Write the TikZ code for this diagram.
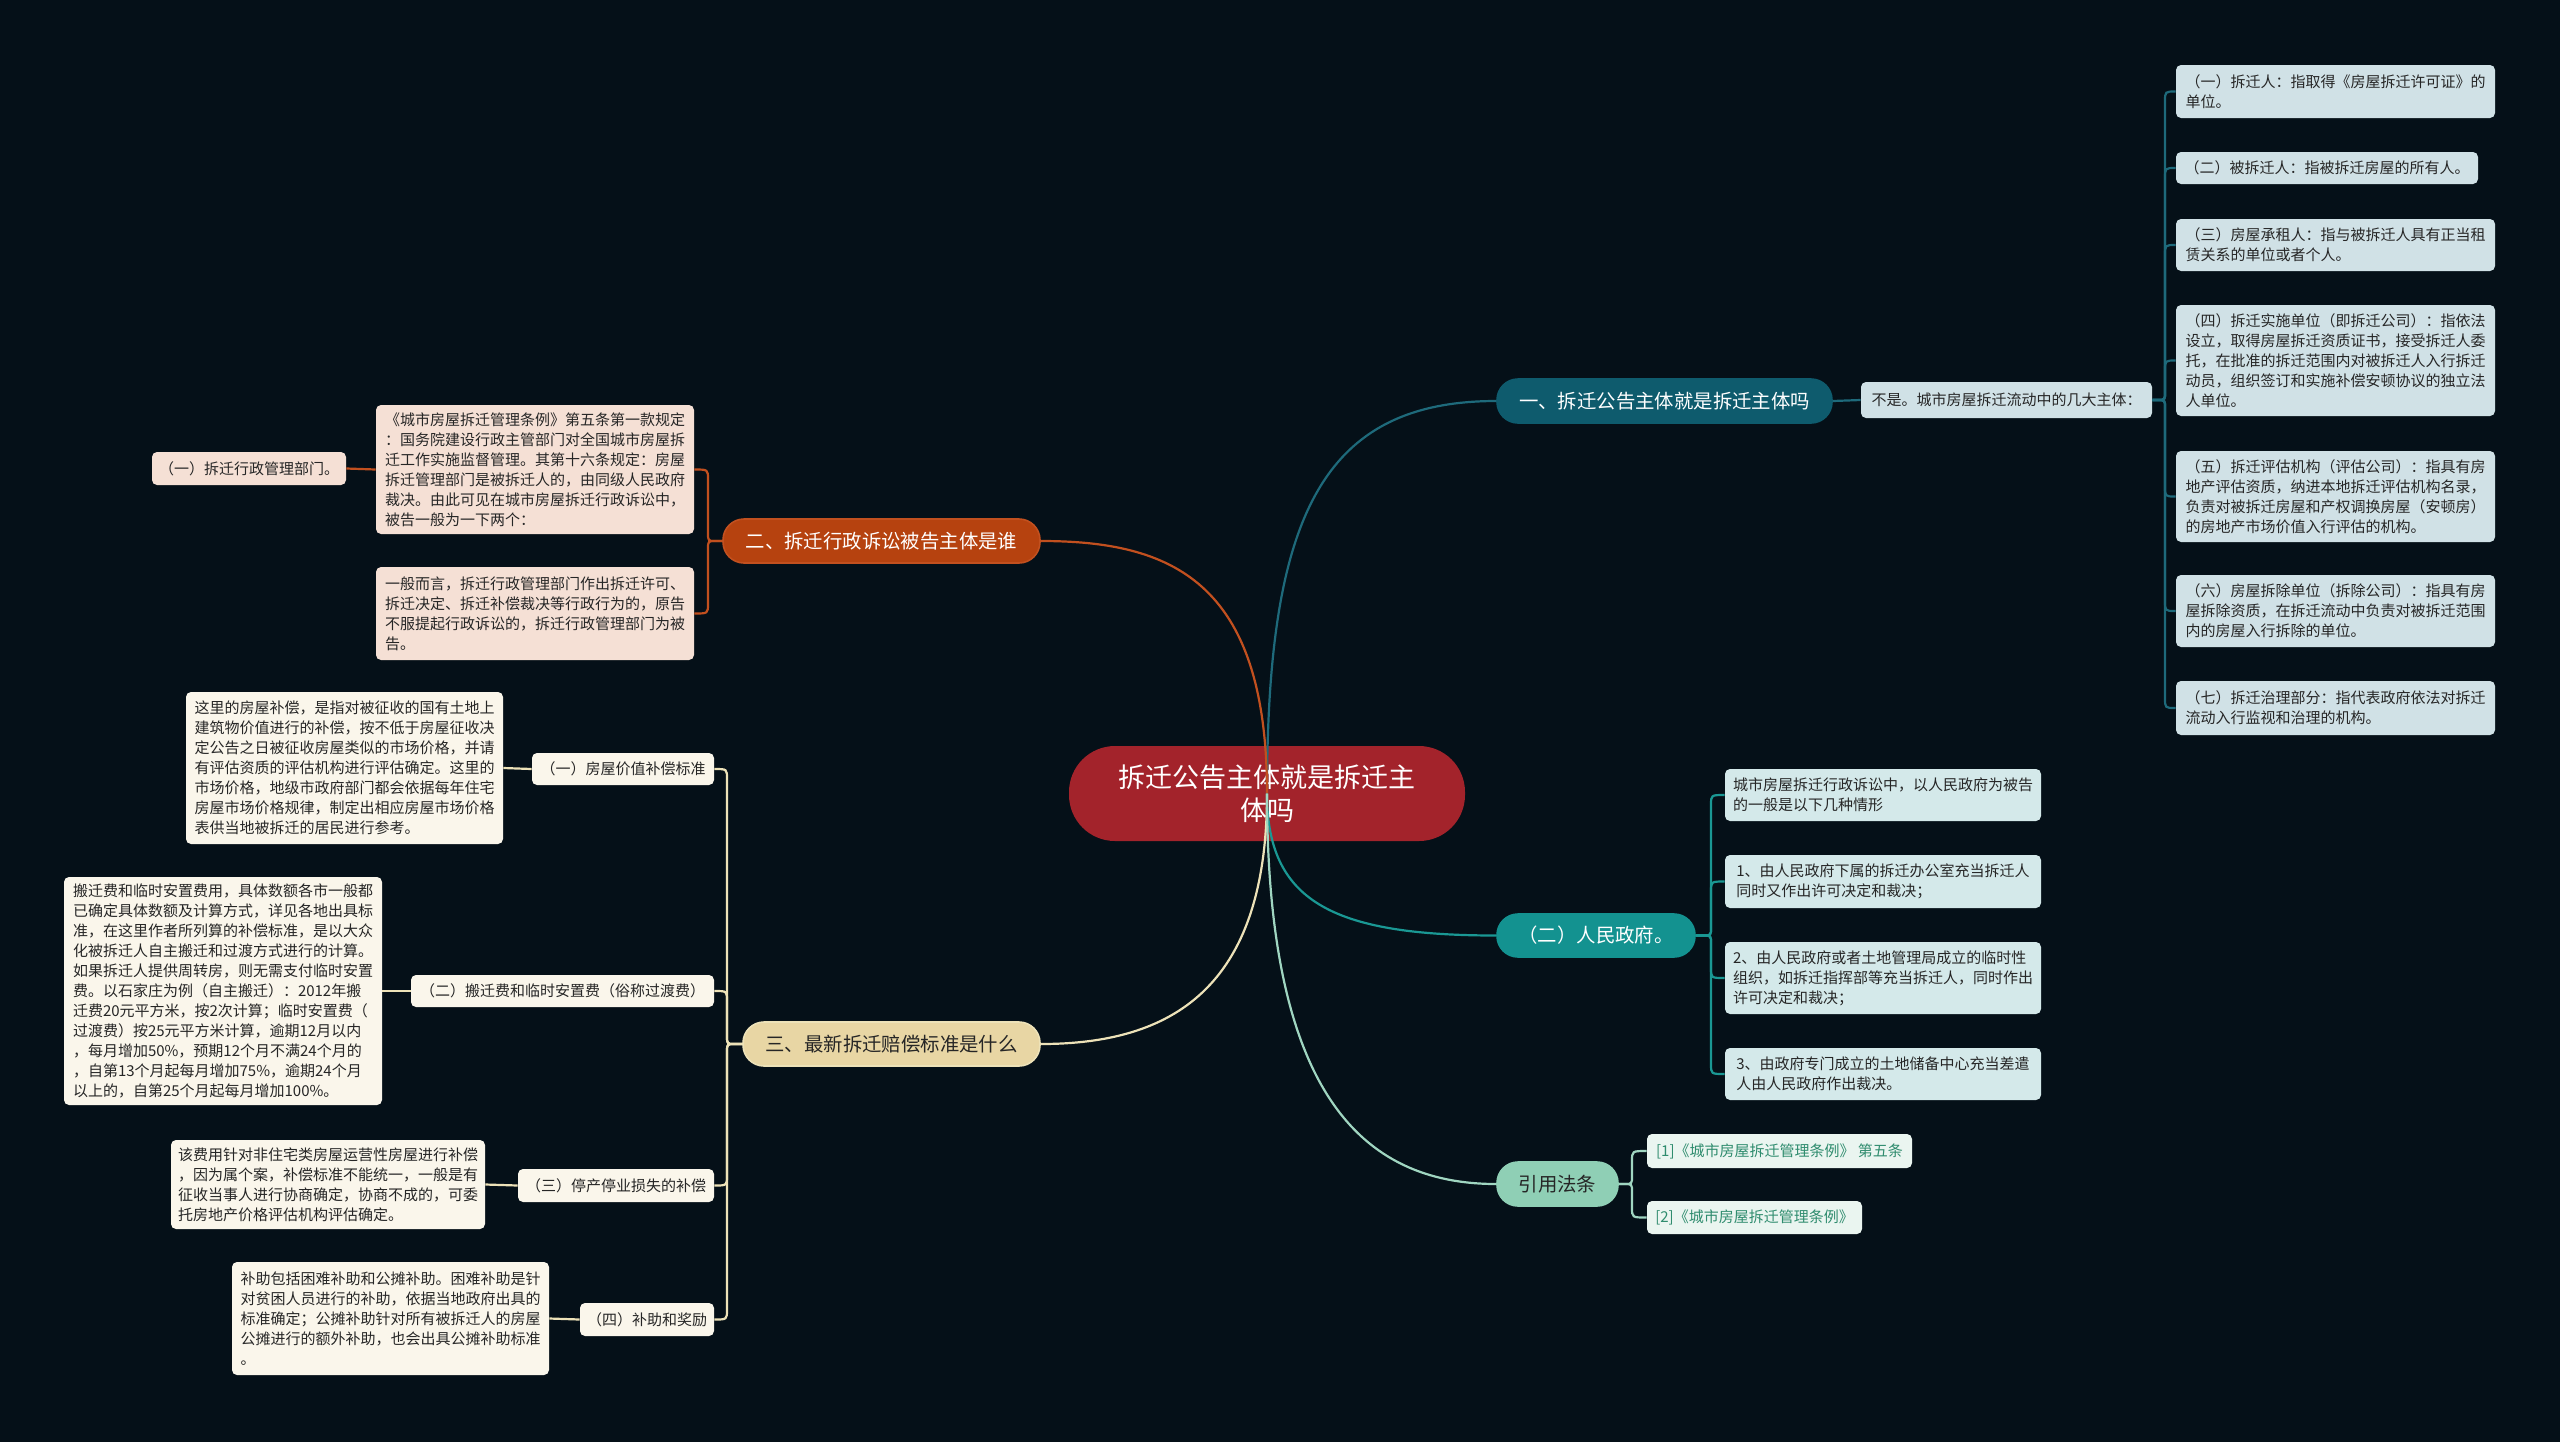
\documentclass[tikz,border=0pt]{standalone}
\usepackage{fontspec}
\setmainfont{Noto Sans CJK SC}
\definecolor{bg}{HTML}{051018}
\definecolor{cred}{HTML}{A3232B}
\definecolor{tealA}{HTML}{0E5B6D}
\definecolor{tealAl}{HTML}{1E6A7B}
\definecolor{boxA}{HTML}{D0E1E6}
\definecolor{orgB}{HTML}{B6420F}
\definecolor{orgBl}{HTML}{C2501F}
\definecolor{boxB}{HTML}{F5E0D5}
\definecolor{yelC}{HTML}{E8D6A4}
\definecolor{yelCl}{HTML}{EDE2B8}
\definecolor{boxC}{HTML}{FAF6EB}
\definecolor{tealD}{HTML}{139290}
\definecolor{tealDl}{HTML}{1A9894}
\definecolor{boxD}{HTML}{D4E9EA}
\definecolor{mintE}{HTML}{8FCFB5}
\definecolor{mintEl}{HTML}{A0D6C1}
\definecolor{boxE}{HTML}{EAF5F0}
\definecolor{txtE}{HTML}{2F8C6E}
\definecolor{txtdark}{HTML}{262626}
\newcommand\bx[7]{%
  \pgfmathsetmacro\myW{(#4-#2)*0.5}%
  \pgfmathsetmacro\myH{(#5-#3)*0.5}%
  \pgfmathsetmacro\myX{(#2+#4)/2}%
  \pgfmathsetmacro\myY{(#3+#5)/2}%
  \node[#6, minimum width=\myW pt, minimum height=\myH pt, inner sep=0pt] (#1) at (\myX,\myY) {#7};}
\newcommand\rconn[6]{%
  \pgfmathsetmacro\mySg{(#5>#3)?1:-1}%
  \draw[#6] (#1.east) -- ({#2-8},#3) .. controls (#2,#3) .. (#2,{#3+8*\mySg}) -- (#2,{#5-10*\mySg}) .. controls (#2,#5) .. (#4.west);}
\newcommand\lconn[6]{%
  \pgfmathsetmacro\mySg{(#5>#3)?1:-1}%
  \draw[#6] (#1.west) -- ({#2+8},#3) .. controls (#2,#3) .. (#2,{#3+8*\mySg}) -- (#2,{#5-10*\mySg}) .. controls (#2,#5) .. (#4.east);}
\begin{document}
\begin{tikzpicture}[x=0.5pt,y=-0.5pt,
  box/.style={rectangle, rounded corners=2.5pt, align=left, font=\fontsize{7.5}{10}\selectfont, text=txtdark},
  pill/.style={rectangle, rounded corners=10.5pt, align=center, font=\fontsize{9.7}{12}\selectfont, line width=0.8pt},
  centre/.style={rectangle, rounded corners=23pt, fill=cred, text=white, align=center, font=\fontsize{13.5}{16.5}\selectfont},
  lA/.style={draw=tealAl, line width=1.1pt},
  lB/.style={draw=orgBl, line width=1.1pt},
  lC/.style={draw=yelCl, line width=1.1pt},
  lD/.style={draw=tealDl, line width=1.1pt},
  lE/.style={draw=mintEl, line width=1.1pt}]
\useasboundingbox (0,0) rectangle (2560,1441);
\fill[bg] (-20,-20) rectangle (2580,1461);

% centre
\bx{c}{1069}{746}{1465}{841}{centre}{拆迁公告主体就是拆迁主\\体吗}

% branch 1
\bx{b1}{1497}{379}{1832}{423}{pill, fill=tealA, draw=tealA, text=white}{一、拆迁公告主体就是拆迁主体吗}
\bx{nb}{1861}{382}{2152}{418}{box, fill=boxA}{不是。城市房屋拆迁流动中的几大主体：}
\bx{R1}{2176}{65}{2495}{118}{box, fill=boxA}{（一）拆迁人：指取得《房屋拆迁许可证》的\\单位。}
\bx{R2}{2176}{152}{2478}{184}{box, fill=boxA}{（二）被拆迁人：指被拆迁房屋的所有人。}
\bx{R3}{2176}{219}{2495}{271}{box, fill=boxA}{（三）房屋承租人：指与被拆迁人具有正当租\\赁关系的单位或者个人。}
\bx{R4}{2176}{305}{2495}{416}{box, fill=boxA}{（四）拆迁实施单位（即拆迁公司）：指依法\\设立，取得房屋拆迁资质证书，接受拆迁人委\\托，在批准的拆迁范围内对被拆迁人入行拆迁\\动员，组织签订和实施补偿安顿协议的独立法\\人单位。}
\bx{R5}{2176}{451}{2495}{542}{box, fill=boxA}{（五）拆迁评估机构（评估公司）：指具有房\\地产评估资质，纳进本地拆迁评估机构名录，\\负责对被拆迁房屋和产权调换房屋（安顿房）\\的房地产市场价值入行评估的机构。}
\bx{R6}{2176}{575}{2495}{647}{box, fill=boxA}{（六）房屋拆除单位（拆除公司）：指具有房\\屋拆除资质，在拆迁流动中负责对被拆迁范围\\内的房屋入行拆除的单位。}
\bx{R7}{2176}{681}{2495}{735}{box, fill=boxA}{（七）拆迁治理部分：指代表政府依法对拆迁\\流动入行监视和治理的机构。}

% branch 2
\bx{b2}{723}{519}{1040}{563}{pill, fill=orgB, draw=orgBl, text=white}{二、拆迁行政诉讼被告主体是谁}
\bx{A}{376}{405}{694}{534}{box, fill=boxB}{《城市房屋拆迁管理条例》第五条第一款规定\\：国务院建设行政主管部门对全国城市房屋拆\\迁工作实施监督管理。其第十六条规定：房屋\\拆迁管理部门是被拆迁人的，由同级人民政府\\裁决。由此可见在城市房屋拆迁行政诉讼中，\\被告一般为一下两个：}
\bx{B}{376}{567}{694}{660}{box, fill=boxB}{一般而言，拆迁行政管理部门作出拆迁许可、\\拆迁决定、拆迁补偿裁决等行政行为的，原告\\不服提起行政诉讼的，拆迁行政管理部门为被\\告。}
\bx{L1}{152}{452}{346}{485}{box, fill=boxB, align=center}{（一）拆迁行政管理部门。}

% branch 3
\bx{b3}{743}{1022}{1040}{1066}{pill, fill=yelC, draw=yelCl, text=txtdark}{三、最新拆迁赔偿标准是什么}
\bx{c31}{532}{753}{714}{785}{box, fill=boxC, align=center}{（一）房屋价值补偿标准}
\bx{c32}{411}{975}{714}{1007}{box, fill=boxC, align=center}{（二）搬迁费和临时安置费（俗称过渡费）}
\bx{c33}{518}{1169}{714}{1202}{box, fill=boxC, align=center}{（三）停产停业损失的补偿}
\bx{c34}{580}{1303}{714}{1336}{box, fill=boxC, align=center}{（四）补助和奖励}
\bx{T1}{186}{692}{503}{844}{box, fill=boxC}{这里的房屋补偿，是指对被征收的国有土地上\\建筑物价值进行的补偿，按不低于房屋征收决\\定公告之日被征收房屋类似的市场价格，并请\\有评估资质的评估机构进行评估确定。这里的\\市场价格，地级市政府部门都会依据每年住宅\\房屋市场价格规律，制定出相应房屋市场价格\\表供当地被拆迁的居民进行参考。}
\bx{T2}{64}{877}{382}{1105}{box, fill=boxC}{搬迁费和临时安置费用，具体数额各市一般都\\已确定具体数额及计算方式，详见各地出具标\\准，在这里作者所列算的补偿标准，是以大众\\化被拆迁人自主搬迁和过渡方式进行的计算。\\如果拆迁人提供周转房，则无需支付临时安置\\费。以石家庄为例（自主搬迁）：2012年搬\\迁费20元平方米，按2次计算；临时安置费（\\过渡费）按25元平方米计算，逾期12月以内\\，每月增加50\%，预期12个月不满24个月的\\，自第13个月起每月增加75\%，逾期24个月\\以上的，自第25个月起每月增加100\%。}
\bx{T3}{171}{1140}{485}{1229}{box, fill=boxC}{该费用针对非住宅类房屋运营性房屋进行补偿\\，因为属个案，补偿标准不能统一，一般是有\\征收当事人进行协商确定，协商不成的，可委\\托房地产价格评估机构评估确定。}
\bx{T4}{232}{1262}{549}{1375}{box, fill=boxC}{补助包括困难补助和公摊补助。困难补助是针\\对贫困人员进行的补助，依据当地政府出具的\\标准确定；公摊补助针对所有被拆迁人的房屋\\公摊进行的额外补助，也会出具公摊补助标准\\。}

% branch 4
\bx{b4}{1497}{914}{1695}{957}{pill, fill=tealD, draw=tealD, text=white}{（二）人民政府。}
\bx{P1}{1725}{769}{2041}{821}{box, fill=boxD}{城市房屋拆迁行政诉讼中，以人民政府为被告\\的一般是以下几种情形}
\bx{P2}{1725}{855}{2041}{908}{box, fill=boxD}{1、由人民政府下属的拆迁办公室充当拆迁人\\同时又作出许可决定和裁决；}
\bx{P3}{1725}{942}{2041}{1014}{box, fill=boxD}{2、由人民政府或者土地管理局成立的临时性\\组织，如拆迁指挥部等充当拆迁人，同时作出\\许可决定和裁决；}
\bx{P4}{1725}{1048}{2041}{1100}{box, fill=boxD}{3、由政府专门成立的土地储备中心充当差遣\\人由人民政府作出裁决。}

% branch 5
\bx{b5}{1497}{1162}{1618}{1206}{pill, fill=mintE, draw=mintE, text=txtdark}{引用法条}
\bx{Q1}{1647}{1134}{1912}{1168}{box, fill=boxE, text=txtE}{[1]《城市房屋拆迁管理条例》 第五条}
\bx{Q2}{1647}{1201}{1862}{1234}{box, fill=boxE, text=txtE}{[2]《城市房屋拆迁管理条例》}

% main connectors
\draw[lA] (c.center) .. controls (1267,520) and (1320,401) .. (b1.west);
\draw[lB] (c.center) .. controls (1267,580) and (1170,541) .. (b2.east);
\draw[lC] (c.center) .. controls (1267,990) and (1170,1044) .. (b3.east);
\draw[lD] (c.center) .. controls (1267,900) and (1330,935.5) .. (b4.west);
\draw[lE] (c.center) .. controls (1267,1090) and (1360,1184) .. (b5.west);

% branch 1 connectors
\draw[lA] (b1.east) -- (nb.west);
\rconn{nb}{2165}{400}{R1}{91.5}{lA}
\rconn{nb}{2165}{400}{R2}{168}{lA}
\rconn{nb}{2165}{400}{R3}{245}{lA}
\rconn{nb}{2165}{400}{R4}{360.5}{lA}
\rconn{nb}{2165}{400}{R5}{496.5}{lA}
\rconn{nb}{2165}{400}{R6}{611}{lA}
\rconn{nb}{2165}{400}{R7}{708}{lA}

% branch 2 connectors
\lconn{b2}{708}{541}{A}{469.5}{lB}
\lconn{b2}{708}{541}{B}{613.5}{lB}
\draw[lB] (A.west) -- (L1.east);

% branch 3 connectors
\lconn{b3}{727}{1044}{c31}{769}{lC}
\lconn{b3}{727}{1044}{c32}{991}{lC}
\lconn{b3}{727}{1044}{c33}{1185.5}{lC}
\lconn{b3}{727}{1044}{c34}{1319.5}{lC}
\draw[lC] (c31.west) -- (T1.east);
\draw[lC] (c32.west) -- (T2.east);
\draw[lC] (c33.west) -- (T3.east);
\draw[lC] (c34.west) -- (T4.east);

% branch 4 connectors
\rconn{b4}{1711}{935.5}{P1}{795}{lD}
\rconn{b4}{1711}{935.5}{P2}{881.5}{lD}
\rconn{b4}{1711}{935.5}{P3}{978}{lD}
\rconn{b4}{1711}{935.5}{P4}{1074}{lD}

% branch 5 connectors
\rconn{b5}{1632}{1184}{Q1}{1151}{lE}
\rconn{b5}{1632}{1184}{Q2}{1217.5}{lE}
\end{tikzpicture}
\end{document}
